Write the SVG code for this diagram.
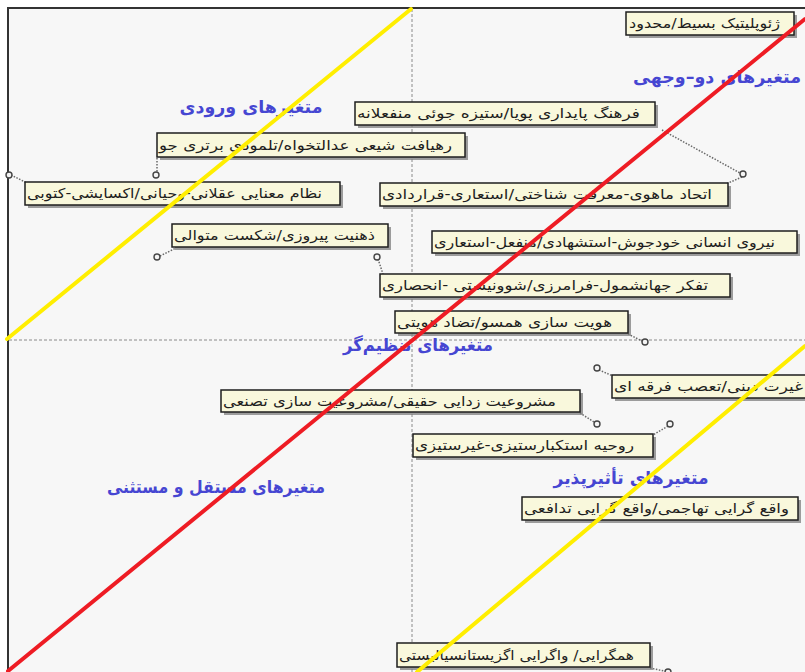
<svg xmlns="http://www.w3.org/2000/svg" width="805" height="672" viewBox="0 0 805 672">
<style>
.bg{fill:#f7f7f7}
.frame{stroke:#333;stroke-width:2;fill:none}
.grid{stroke:#8a8a8a;stroke-width:1;stroke-dasharray:3,2;fill:none}
.lead{stroke:#6a6a6a;stroke-width:1.5;stroke-dasharray:1.5,1.5;fill:none}
.handle{fill:#f4f4f4;stroke:#444;stroke-width:1.4}
.box{fill:#f9f8dc;stroke:#1e1e1e;stroke-width:1.5}
.shadow{fill:#7d7d7d;opacity:0.75}
.lbl{font-family:"DejaVu Sans",sans-serif;font-size:13.5px;fill:#1e1e1e;direction:rtl;text-anchor:start}
.title{font-family:"DejaVu Sans",sans-serif;font-size:17.5px;font-weight:bold;fill:#4646d2;text-anchor:middle}
.yellow{stroke:#ffee00;stroke-width:4;fill:none;stroke-linecap:round}
.red{stroke:#ee1c24;stroke-width:4;fill:none;stroke-linecap:round}
</style>
<rect x="0" y="0" width="805" height="672" fill="#ffffff"/>
<rect class="bg" x="8" y="8" width="797" height="664"/>
<g id="grid">
<line class="grid" x1="412" y1="9" x2="412" y2="672"/>
<line class="grid" x1="9" y1="340" x2="805" y2="340"/>
</g>
<path class="frame" d="M8,672 V8 H805"/>
<g id="connectors">
<line class="lead" x1="11" y1="175" x2="27" y2="183"/>
<circle class="handle" cx="9" cy="175" r="3"/>
<line class="lead" x1="157" y1="158" x2="157" y2="172"/>
<circle class="handle" cx="156" cy="175" r="3"/>
<line class="lead" x1="160" y1="256" x2="176" y2="248"/>
<circle class="handle" cx="157" cy="257" r="3"/>
<line class="lead" x1="378" y1="259" x2="383" y2="274"/>
<circle class="handle" cx="377" cy="257" r="3"/>
<line class="lead" x1="662" y1="130" x2="740" y2="173"/>
<line class="lead" x1="742" y1="177" x2="726" y2="184"/>
<circle class="handle" cx="743" cy="174" r="3"/>
<line class="lead" x1="628" y1="334" x2="642" y2="341"/>
<circle class="handle" cx="645" cy="342" r="3"/>
<line class="lead" x1="599" y1="370" x2="613" y2="376"/>
<circle class="handle" cx="597" cy="368" r="3"/>
<line class="lead" x1="580" y1="413" x2="594" y2="422"/>
<circle class="handle" cx="597" cy="424" r="3"/>
<line class="lead" x1="668" y1="426" x2="653" y2="435"/>
<circle class="handle" cx="670" cy="424" r="3"/>
<line class="lead" x1="650" y1="668" x2="664" y2="671"/>
<circle class="handle" cx="668" cy="672" r="3"/>
</g>
<g id="n1"><rect class="shadow" x="629" y="15" width="168" height="23"/><rect class="box" x="626" y="12" width="168" height="23"/><text class="lbl" x="780" y="28" textLength="151" lengthAdjust="spacingAndGlyphs">ژئوپلیتیک بسیط/محدود</text></g>
<g id="n2"><rect class="shadow" x="358" y="105" width="300" height="23"/><rect class="box" x="355" y="102" width="300" height="23"/><text class="lbl" x="640" y="118" textLength="283" lengthAdjust="spacingAndGlyphs">فرهنگ پایداری پویا/ستیزه جوئی منفعلانه</text></g>
<g id="n3"><rect class="shadow" x="160" y="136" width="308" height="24"/><rect class="box" x="157" y="133" width="308" height="24"/><text class="lbl" x="452" y="150" textLength="293" lengthAdjust="spacingAndGlyphs">رهیافت شیعی عدالتخواه/تلمودی برتری جو</text></g>
<g id="n4"><rect class="shadow" x="28" y="185" width="315" height="23"/><rect class="box" x="25" y="182" width="315" height="23"/><text class="lbl" x="322" y="198" textLength="295" lengthAdjust="spacingAndGlyphs">نظام معنایی عقلانی-وحیانی/اکسایشی-کتوبی</text></g>
<g id="n5"><rect class="shadow" x="175" y="227" width="216" height="23"/><rect class="box" x="172" y="224" width="216" height="23"/><text class="lbl" x="375" y="240" textLength="201" lengthAdjust="spacingAndGlyphs">ذهنیت پیروزی/شکست متوالی</text></g>
<g id="n6"><rect class="shadow" x="383" y="186" width="348" height="23"/><rect class="box" x="380" y="183" width="348" height="23"/><text class="lbl" x="712" y="199" textLength="330" lengthAdjust="spacingAndGlyphs">اتحاد ماهوی-معرفت شناختی/استعاری-قراردادی</text></g>
<g id="n7"><rect class="shadow" x="435" y="234" width="365" height="22"/><rect class="box" x="432" y="231" width="365" height="22"/><text class="lbl" x="775" y="247" textLength="341" lengthAdjust="spacingAndGlyphs">نیروی انسانی خودجوش-استشهادی/منفعل-استعاری</text></g>
<g id="n8"><rect class="shadow" x="383" y="277" width="350" height="23"/><rect class="box" x="380" y="274" width="350" height="23"/><text class="lbl" x="708" y="290" textLength="326" lengthAdjust="spacingAndGlyphs">تفکر جهانشمول-فرامرزی/شوونیستی -انحصاری</text></g>
<g id="n9"><rect class="shadow" x="398" y="314" width="233" height="22"/><rect class="box" x="395" y="311" width="233" height="22"/><text class="lbl" x="612" y="327" textLength="215" lengthAdjust="spacingAndGlyphs">هویت سازی همسو/تضاد هویتی</text></g>
<g id="n10"><rect class="shadow" x="224" y="393" width="359" height="22"/><rect class="box" x="221" y="390" width="359" height="22"/><text class="lbl" x="556" y="406" textLength="333" lengthAdjust="spacingAndGlyphs">مشروعیت زدایی حقیقی/مشروعیت سازی تصنعی</text></g>
<g id="n11"><rect class="shadow" x="615" y="378" width="206" height="23"/><rect class="box" x="612" y="375" width="206" height="23"/><text class="lbl" x="803" y="391" textLength="189" lengthAdjust="spacingAndGlyphs">غیرت دینی/تعصب فرقه ای</text></g>
<g id="n12"><rect class="shadow" x="416" y="437" width="240" height="23"/><rect class="box" x="413" y="434" width="240" height="23"/><text class="lbl" x="634" y="450" textLength="219" lengthAdjust="spacingAndGlyphs">روحیه استکبارستیزی-غیرستیزی</text></g>
<g id="n13"><rect class="shadow" x="525" y="500" width="276" height="23"/><rect class="box" x="522" y="497" width="276" height="23"/><text class="lbl" x="789" y="513" textLength="265" lengthAdjust="spacingAndGlyphs">واقع گرایی تهاجمی/واقع گرایی تدافعی</text></g>
<g id="n14"><rect class="shadow" x="400" y="646" width="253" height="24"/><rect class="box" x="397" y="643" width="253" height="24"/><text class="lbl" x="634" y="660" textLength="235" lengthAdjust="spacingAndGlyphs">همگرایی/ واگرایی اگزیستانسیالیستی</text></g>
<g id="titles">
<text class="title" x="251" y="113" textLength="143" lengthAdjust="spacingAndGlyphs">متغیرهای ورودی</text>
<text class="title" x="717" y="83">متغیرهای دو–وجهی</text>
<text class="title" x="418" y="351" textLength="150" lengthAdjust="spacingAndGlyphs">متغیرهای تنظیم‌گر</text>
<text class="title" x="631" y="484" textLength="155" lengthAdjust="spacingAndGlyphs">متغیرهای تأثیرپذیر</text>
<text class="title" x="216" y="493" textLength="218" lengthAdjust="spacingAndGlyphs">متغیرهای مستقل و مستثنی</text>
</g>
<g id="trend-lines">
<line class="yellow" x1="411" y1="9" x2="7" y2="339"/>
<line class="yellow" x1="805" y1="346" x2="417" y2="672"/>
<line class="red" x1="805" y1="19" x2="8" y2="671"/>
</g>
</svg>
